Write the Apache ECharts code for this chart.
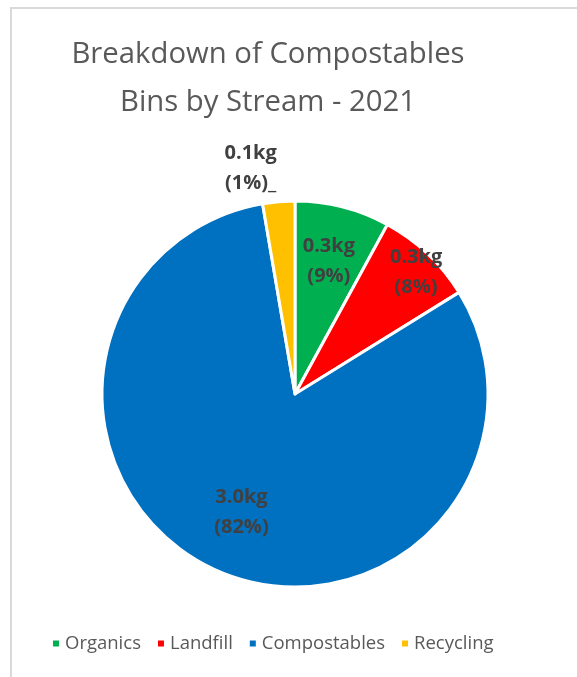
<!DOCTYPE html>
<html>
<head>
<meta charset="utf-8">
<script src="https://cdn.jsdelivr.net/npm/echarts@6/dist/echarts.min.js"></script>
<style>
    html, body { margin: 0; padding: 0; background: #fff; }
    #chart { width: 577px; height: 677px; }
</style>
</head>
<body>
<div id="chart"></div>
<script>
    var categories = ['Organics', 'Landfill', 'Compostables', 'Recycling'];
    var weights = [0.29, 0.30, 2.96, 0.098];
    var kgLabels = ['0.3kg', '0.3kg', '3.0kg', '0.1kg'];
    var pctLabels = ['(9%)', '(8%)', '(82%)', '(1%)_'];
    var colors = ['#00B050', '#FF0000', '#0070C0', '#FFC000'];

    // label placement: fraction of radius, extra angle (deg) from slice middle
    var labelRadius = [0.71, 0.89, 0.675, 1.19];
    var labelTurn = [0, 1.4, 0, -6.3];

    var cx = 295, cy = 394, R = 193;

    var total = weights.reduce(function (a, b) { return a + b; }, 0);
    var midAngles = [];
    var acc = 0;
    weights.forEach(function (v) {
        midAngles.push((acc + v / 2) / total * 360);
        acc += v;
    });

    var chart = echarts.init(document.getElementById('chart'));
    var option = {
        backgroundColor: '#fff',
        color: colors,
        graphic: [{
            type: 'rect',
            shape: { x: 11, y: 8, width: 620, height: 720 },
            style: { fill: 'none', stroke: '#d9d9d9', lineWidth: 2 },
            silent: true
        }],
        title: {
            text: 'Breakdown of Compostables\nBins by Stream - 2021',
            left: 263,
            textAlign: 'center',
            top: 26,
            textStyle: {
                fontFamily: 'Open Sans',
                fontWeight: 'normal',
                fontSize: 29.3,
                lineHeight: 48,
                color: '#595959'
            }
        },
        legend: {
            data: categories,
            bottom: 19,
            left: 46,
            icon: 'rect',
            itemWidth: 8,
            itemHeight: 8,
            itemGap: 15,
            textStyle: {
                fontFamily: 'Open Sans',
                fontSize: 18.5,
                color: '#595959'
            }
        },
        series: [{
            type: 'pie',
            center: [cx, cy],
            radius: R,
            startAngle: 90,
            clockwise: true,
            animation: false,
            itemStyle: { borderColor: '#fff', borderWidth: 3 },
            label: {
                show: true,
                position: 'inside',
                formatter: function (p) {
                    return kgLabels[p.dataIndex] + '\n' + pctLabels[p.dataIndex];
                },
                fontFamily: 'Open Sans',
                fontWeight: 'bold',
                fontSize: 20,
                lineHeight: 30,
                color: '#404040'
            },
            labelLine: { show: false },
            labelLayout: function (p) {
                var i = p.dataIndex;
                var a = (midAngles[i] + labelTurn[i]) * Math.PI / 180;
                var r = R * labelRadius[i];
                return {
                    x: cx + r * Math.sin(a),
                    y: cy - r * Math.cos(a),
                    align: 'center',
                    verticalAlign: 'middle'
                };
            },
            data: categories.map(function (c, i) {
                return { name: c, value: weights[i] };
            })
        }]
    };
    chart.setOption(option);
</script>
</body>
</html>
